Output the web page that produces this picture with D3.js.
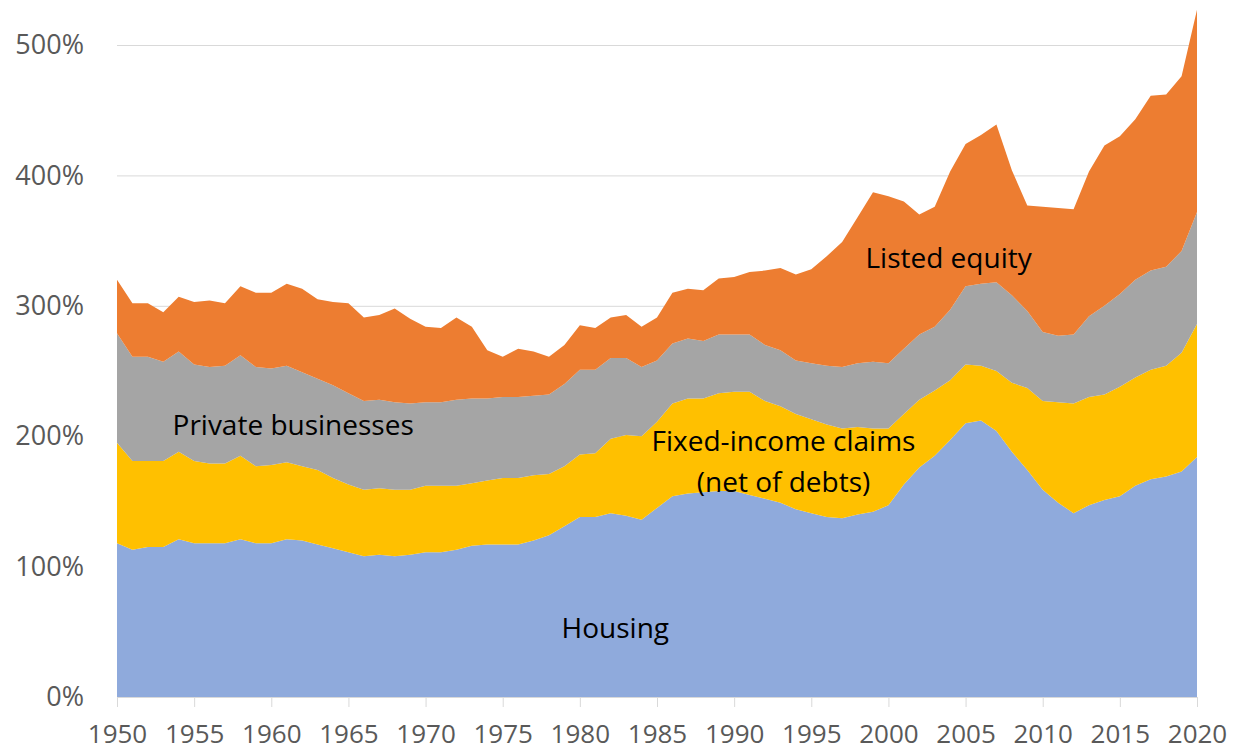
<!DOCTYPE html>
<html>
<head>
<meta charset="utf-8">
<script src="https://cdn.jsdelivr.net/npm/d3@7"></script>
<style>
  body { margin: 0; background: #fff; }
  text { font-family: "Open Sans", sans-serif; }
</style>
</head>
<body>
<div class="figure"></div>
<script>
// wealth components, % of national income, stacked bottom->top
var years = d3.range(1950, 2021)

var housing = [118,113,115,115,121,118,118,118,121,118, 118,121,120,117,114,111,108,109,108,109,
               111,111,113,116,117,117,117,120,124,131, 138,138,141,139,136,145,154,156,157,158,
               158,155,152,149,144,141,138,137,140,142, 147,163,176,185,197,210,212,204,188,174,
               159,149,141,147,151,154,162,167,169,173, 184]

var fixedIncome = [77,68,66,66,67,63,61,61,64,59, 60,59,57,57,54,52,51,51,51,50,
                   51,51,49,48,49,51,51,50,47,46, 48,49,57,62,64,66,71,73,72,75,
                   76,79,75,74,73,72,71,69,67,64, 59,54,52,50,46,45,42,46,53,63,
                   68,77,84,83,81,84,83,84,85,91, 102]

var privateBiz = [84,80,80,76,77,74,74,75,77,76, 74,74,72,70,71,70,68,68,67,66,
                  64,64,66,65,63,62,62,61,61,63, 65,64,62,59,53,47,46,46,44,45,
                  44,44,43,43,41,43,45,47,49,51, 50,50,50,49,54,60,63,68,67,59,
                  53,51,53,62,68,71,75,76,76,78, 86]

var listedEquity = [41,41,41,38,42,48,51,48,53,57, 58,63,64,61,64,69,64,65,72,65,
                    58,57,63,55,37,31,37,34,29,30, 34,32,31,33,31,33,39,38,39,43,
                    44,48,57,63,66,72,84,96,112,130, 128,113,92,92,106,109,114,121,96,81,
                    96,98,96,111,123,121,123,134,132,134, 155]

var seriesKeys = ["housing", "fixedIncome", "privateBiz", "listedEquity"]
var seriesColors = ["#8FAADC", "#FFC000", "#A5A5A5", "#ED7D31"]
var yTicks = [0, 100, 200, 300, 400, 500]
var xTicks = d3.range(1950, 2021, 5)

var dataset = years.map(function(yr, i) {
    return {
        year: yr,
        housing: housing[i],
        fixedIncome: fixedIncome[i],
        privateBiz: privateBiz[i],
        listedEquity: listedEquity[i]
    }
})

var dim = { w: 1239, h: 752 }
var plot = { left: 117, right: 1197, top: 45, bottom: 697 }
var xTickFontSize = 26,
    yTickFontSize = 27,
    labelFontSize = 28

var svg = d3.select("div.figure")
    .append("svg")
    .attr("width", dim.w)
    .attr("height", dim.h)

var xScale = d3.scaleLinear()
    .domain([1950, 2020])
    .range([plot.left, plot.right])

var yScale = d3.scaleLinear()
    .domain([0, 500])
    .range([plot.bottom, plot.top])

// gridlines
svg.append("g")
    .attr("class", "grid")
    .selectAll("line")
    .data(yTicks.slice(1))
    .enter()
    .append("line")
    .attr("x1", plot.left)
    .attr("x2", plot.right)
    .attr("y1", function(d) { return yScale(d) + 0.5 })
    .attr("y2", function(d) { return yScale(d) + 0.5 })
    .attr("stroke", "#D9D9D9")
    .attr("stroke-width", 1)

var stack = d3.stack().keys(seriesKeys)
var layers = stack(dataset)

var area = d3.area()
    .x(function(d) { return xScale(d.data.year) })
    .y0(function(d) { return yScale(d[0]) })
    .y1(function(d) { return yScale(d[1]) })

svg.append("g")
    .attr("class", "areas")
    .selectAll("path")
    .data(layers)
    .enter()
    .append("path")
    .attr("d", area)
    .attr("fill", function(d, i) { return seriesColors[i] })

// x axis
var xAxis = d3.axisBottom(xScale)
    .tickValues(xTicks)
    .tickFormat(d3.format("d"))
    .tickSize(10)
    .tickPadding(18)

var gx = svg.append("g")
    .attr("class", "x axis")
    .attr("transform", "translate(0," + plot.bottom + ")")
    .call(xAxis)
gx.select(".domain").attr("stroke", "#D9D9D9")
gx.selectAll(".tick line").attr("stroke", "#D9D9D9")
gx.selectAll(".tick text")
    .style("font-size", xTickFontSize + "px")
    .attr("fill", "#595959")

// y axis (labels only)
var yAxis = d3.axisLeft(yScale)
    .tickValues(yTicks)
    .tickFormat(function(d) { return d + "%" })
    .tickSize(0)
    .tickPadding(33)

var gy = svg.append("g")
    .attr("class", "y axis")
    .attr("transform", "translate(" + plot.left + ",0)")
    .call(yAxis)
gy.select(".domain").remove()
gy.selectAll(".tick text")
    .style("font-size", yTickFontSize + "px")
    .attr("fill", "#595959")

// series labels (anchored in data space: year, value at baseline)
var labels = [
    { lines: ["Private businesses"], year: 1953.6, values: [201], anchor: "start" },
    { lines: ["Fixed-income claims", "(net of debts)"], year: 1993.2, values: [188.5, 157], anchor: "middle" },
    { lines: ["Housing"], year: 1982.3, values: [45], anchor: "middle" },
    { lines: ["Listed equity"], year: 2003.9, values: [329], anchor: "middle" }
]

labels.forEach(function(lb) {
    lb.lines.forEach(function(s, i) {
        svg.append("text")
            .attr("x", xScale(lb.year))
            .attr("y", yScale(lb.values[i]))
            .attr("text-anchor", lb.anchor)
            .style("font-size", labelFontSize + "px")
            .attr("fill", "#000")
            .text(s)
    })
})
</script>
</body>
</html>
